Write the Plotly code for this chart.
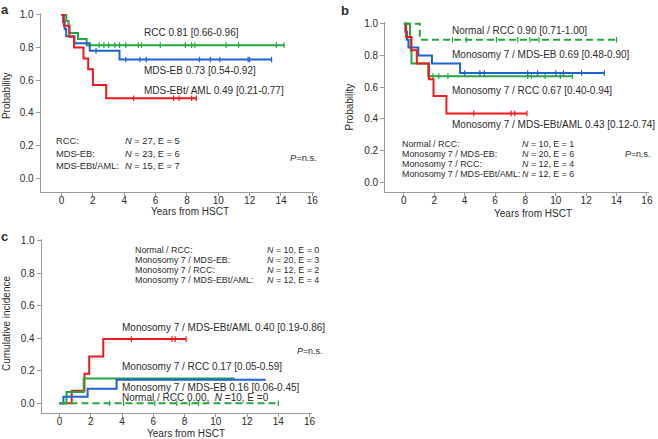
import plotly.graph_objects as go

W, H = 658, 439
FONT = "Liberation Sans, Arial, sans-serif"
GREEN = "#22a83e"
BLUE = "#1f62d4"
RED = "#f01a1a"
AX = "#9a9a9a"
TXT = "#2b2b2b"

# ---------------- data ----------------
x_ticks = [0, 2, 4, 6, 8, 10, 12, 14, 16]
y_ticks = [0.0, 0.2, 0.4, 0.6, 0.8, 1.0]

# Panel a: overall survival by morphology
a_rcc_t = [0, 0.3, 0.45, 0.5, 1.05, 1.6, 14.2]
a_rcc_s = [1.0, 0.963, 0.926, 0.889, 0.852, 0.815, 0.815]
a_rcc_cens = [2.4, 2.7, 3.0, 3.4, 3.7, 4.1, 4.9, 5.1, 6.3, 7.9, 8.3, 8.5, 10.5, 11.3, 13.7, 14.2]

a_eb_t = [0, 0.1, 0.2, 0.3, 0.82, 1.8, 3.7, 13.4]
a_eb_s = [1.0, 0.957, 0.913, 0.870, 0.826, 0.780, 0.727, 0.727]
a_eb_cens = [2.2, 4.1, 5.0, 5.4, 8.8, 9.5, 10.1, 11.9, 12.0, 13.4]

a_aml_t = [0, 0.15, 0.5, 0.8, 1.4, 1.7, 2.0, 2.85, 8.6]
a_aml_s = [1.0, 0.933, 0.867, 0.800, 0.733, 0.667, 0.571, 0.490, 0.490]
a_aml_cens = [4.6, 7.15, 7.5, 8.3, 8.6]

# Panel b: overall survival by karyotype / morphology
b_norm_t = [0, 1.05, 14.0]
b_norm_s = [1.0, 0.90, 0.90]
b_norm_cens = [3.2, 4.1, 6.1, 7.5, 8.3, 8.9, 14.0]

b_eb_t = [0, 0.1, 0.2, 0.3, 0.95, 1.85, 3.7, 13.2]
b_eb_s = [1.0, 0.95, 0.90, 0.85, 0.80, 0.75, 0.69, 0.69]
b_eb_cens = [4.0, 5.0, 5.3, 8.15, 8.8, 10.0, 10.5, 11.7, 13.2]

b_rcc_t = [0, 0.4, 0.45, 0.5, 1.6, 11.1]
b_rcc_s = [1.0, 0.917, 0.833, 0.75, 0.67, 0.67]
b_rcc_cens = [1.9, 2.3, 2.9, 8.15, 8.4, 9.3, 10.3, 11.1]

b_aml_t = [0, 0.15, 0.5, 0.85, 1.65, 1.95, 2.8, 8.1]
b_aml_s = [1.0, 0.917, 0.833, 0.75, 0.65, 0.545, 0.435, 0.435]
b_aml_cens = [4.6, 7.06, 7.3, 8.1]

# Panel c: cumulative incidence
c_norm_t = [0, 14.0]
c_norm_s = [0.0, 0.0]
c_norm_cens = [3.2, 4.1, 6.1, 7.5, 8.3, 8.9, 14.0]

c_eb_t = [0, 0.25, 1.8, 3.65, 13.2]
c_eb_s = [0.0, 0.04, 0.09, 0.145, 0.145]

c_rcc_t = [0, 0.45, 1.55, 11.2]
c_rcc_s = [0.0, 0.07, 0.152, 0.152]

c_aml_t = [0, 0.78, 1.6, 1.9, 2.8, 8.1]
c_aml_s = [0.0, 0.078, 0.182, 0.288, 0.395, 0.395]
c_aml_cens = [4.6, 7.2, 7.4, 8.1]

# ---------------- figure ----------------
fig = go.Figure()


def step_val(ts, ss, x):
    idx = 0
    for i, t in enumerate(ts):
        if t <= x:
            idx = i
    return ss[idx]


def add_curve(xa, ya, ts, ss, cens, color, dash="solid"):
    fig.add_trace(go.Scatter(
        x=ts, y=ss, mode="lines",
        line=dict(color=color, width=2, shape="hv", dash=dash),
        xaxis=xa, yaxis=ya, hoverinfo="skip", showlegend=False))
    if cens:
        fig.add_trace(go.Scatter(
            x=cens, y=[step_val(ts, ss, c) for c in cens], mode="markers",
            marker=dict(symbol="line-ns", size=4, line=dict(color=color, width=1.2)),
            xaxis=xa, yaxis=ya, hoverinfo="skip", showlegend=False))


DASH = "7px,4px"
add_curve("x", "y", a_rcc_t, a_rcc_s, a_rcc_cens, GREEN)
add_curve("x", "y", a_eb_t, a_eb_s, a_eb_cens, BLUE)
add_curve("x", "y", a_aml_t, a_aml_s, a_aml_cens, RED)

add_curve("x2", "y2", b_rcc_t, b_rcc_s, b_rcc_cens, GREEN)
add_curve("x2", "y2", b_eb_t, b_eb_s, b_eb_cens, BLUE)
add_curve("x2", "y2", b_aml_t, b_aml_s, b_aml_cens, RED)
add_curve("x2", "y2", b_norm_t, b_norm_s, b_norm_cens, GREEN, DASH)

add_curve("x3", "y3", c_aml_t, c_aml_s, c_aml_cens, RED)
add_curve("x3", "y3", c_rcc_t, c_rcc_s, None, GREEN)
add_curve("x3", "y3", c_eb_t, c_eb_s, None, BLUE)
add_curve("x3", "y3", c_norm_t, c_norm_s, c_norm_cens, GREEN, DASH)


def xax(left, right, rng, anchor):
    return dict(domain=[left / W, right / W], range=rng, anchor=anchor,
                showline=True, linecolor=AX, linewidth=1, ticks="outside",
                ticklen=3, tickcolor=AX, tickwidth=1, showgrid=False,
                zeroline=False, tickvals=x_ticks, ticktext=[str(v) for v in x_ticks],
                ticklabelstandoff=-4,
                tickfont=dict(size=10, color=TXT, family=FONT))


def yax(bottom, top, rng, anchor):
    return dict(domain=[1 - bottom / H, 1 - top / H], range=rng, anchor=anchor,
                showline=True, linecolor=AX, linewidth=1, ticks="outside",
                ticklen=4, tickcolor=AX, tickwidth=1, showgrid=False,
                zeroline=False, tickvals=y_ticks, ticktext=["%.1f" % v for v in y_ticks],
                tickfont=dict(size=10, color=TXT, family=FONT))


fig.update_layout(
    width=W, height=H, margin=dict(l=0, r=0, t=0, b=0),
    paper_bgcolor="white", plot_bgcolor="white", showlegend=False,
    font=dict(family=FONT, color=TXT, size=10),
    xaxis=xax(41, 316, [-1.33, 16.08], "y"),
    yaxis=yax(190, 9, [-0.085, 1.012], "x"),
    xaxis2=xax(388, 654, [-1.24, 16.14], "y2"),
    yaxis2=yax(190, 18, [-0.0625, 1.0125], "x2"),
    xaxis3=xax(42, 314, [-1.14, 16.13], "y3"),
    yaxis3=yax(413, 237, [-0.061, 1.012], "x3"),
)


def txt(xp, yp, s, size=10, anchor="left", bold=False, angle=0):
    if bold:
        s = "<b>" + s + "</b>"
    fig.add_annotation(x=xp / W, y=1 - yp / H, xref="paper", yref="paper",
                       text=s, showarrow=False, xanchor=anchor, yanchor="middle",
                       textangle=angle, borderpad=0,
                       font=dict(size=size, color=TXT, family=FONT))


# panel labels
txt(0, 6, "a", 13, bold=True)
txt(343, 7, "b", 13, bold=True)
txt(0, 235, "c", 13, bold=True)

# axis titles
txt(6, 92, "Probability", 10, anchor="center", angle=-90)
txt(352, 104, "Probability", 10, anchor="center", angle=-90)
txt(6, 322, "Cumulative incidence", 10, anchor="center", angle=-90)
txt(191, 209, "Years from HSCT", 10, anchor="center")
txt(537, 211, "Years from HSCT", 10, anchor="center")
txt(187, 433, "Years from HSCT", 10, anchor="center")

# panel a labels
txt(144, 29, "RCC 0.81 [0.66-0.96]")
txt(144, 67, "MDS-EB 0.73 [0.54-0.92]")
txt(144, 87, "MDS-EBt/ AML 0.49 [0.21-0.77]")
LS = 9.3
txt(55, 138, "RCC:", LS)
txt(55, 151.5, "MDS-EB:", LS)
txt(55, 163.5, "MDS-EBt/AML:", LS)
txt(125, 138, "<i>N</i> = 27, E = 5", LS)
txt(125, 151.5, "<i>N</i> = 23, E = 6", LS)
txt(125, 163.5, "<i>N</i> = 15, E = 7", LS)
txt(291, 155, "<i>P</i>=n.s.", LS)

# panel b labels
txt(454, 27, "Normal / RCC 0.90 [0.71-1.00]")
txt(454, 51, "Monosomy 7 / MDS-EB 0.69 [0.48-0.90]")
txt(454, 87, "Monosomy 7 / RCC 0.67 [0.40-0.94]")
txt(454, 122, "Monosomy 7 / MDS-EBt/AML 0.43 [0.12-0.74]")
LB = 8.9
txt(404, 141, "Normal / RCC:", LB)
txt(404, 151.3, "Monosomy 7 / MDS-EB:", LB)
txt(404, 161.6, "Monosomy 7 / RCC:", LB)
txt(404, 172, "Monosomy 7 / MDS-EBt/AML:", LB)
txt(525, 141, "<i>N</i> = 10, E = 1", LB)
txt(525, 151.3, "<i>N</i> = 20, E = 6", LB)
txt(525, 161.6, "<i>N</i> = 12, E = 4", LB)
txt(525, 172, "<i>N</i> = 12, E = 6", LB)
txt(629, 151.3, "<i>P</i>=n.s.", LB)

# panel c labels
txt(135, 248, "Normal / RCC:", LB)
txt(135, 258.3, "Monosomy 7 / MDS-EB:", LB)
txt(135, 268.6, "Monosomy 7 / RCC:", LB)
txt(135, 279, "Monosomy 7 / MDS-EBt/AML:", LB)
txt(268, 248, "<i>N</i> = 10, E = 0", LB)
txt(268, 258.3, "<i>N</i> = 20, E = 3", LB)
txt(268, 268.6, "<i>N</i> = 12, E = 2", LB)
txt(268, 279, "<i>N</i> = 12, E = 4", LB)
txt(122, 326, "Monosomy 7 / MDS-EBt/AML 0.40 [0.19-0.86]")
txt(298, 350, "<i>P</i>=n.s.", LB)
txt(122, 366, "Monosomy 7 / RCC 0.17 [0.05-0.59]")
txt(122, 387, "Monosomy 7 / MDS-EB 0.16 [0.06-0.45]")
txt(122, 397.5, "Normal / RCC 0.00,  <i>N</i> =10, E =0")

fig.write_html("out.html", config={"displayModeBar": False},
               post_script="document.body.style.margin='0';")
